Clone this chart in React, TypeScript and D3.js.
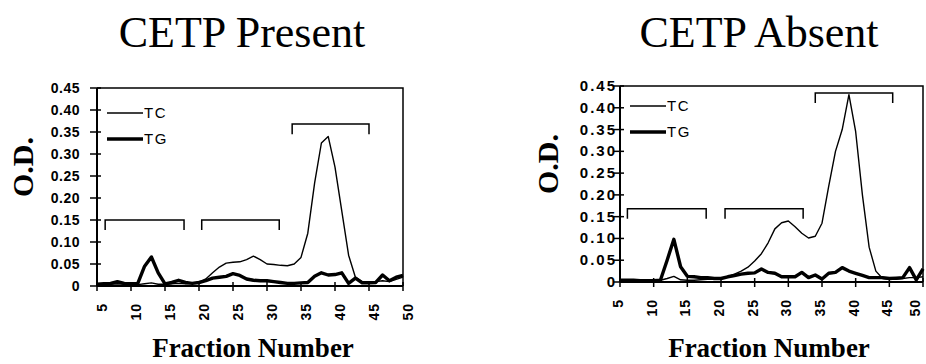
import * as d3 from "d3"

const fractions = [5, 6, 7, 8, 9, 10, 11, 12, 13, 14, 15, 16, 17, 18, 19, 20, 21, 22, 23, 24, 25, 26, 27, 28, 29, 30, 31, 32, 33, 34, 35, 36, 37, 38, 39, 40, 41, 42, 43, 44, 45, 46, 47, 48, 49, 50]

// CETP present
const presentTC = [0.003, 0.003, 0.004, 0.005, 0.004, 0.003, 0.003, 0.005, 0.007, 0.004, 0.004, 0.005, 0.006, 0.005, 0.006, 0.008, 0.016, 0.03, 0.043, 0.052, 0.054, 0.055, 0.06, 0.068, 0.06, 0.05, 0.049, 0.047, 0.046, 0.05, 0.065, 0.12, 0.234, 0.325, 0.34, 0.27, 0.17, 0.07, 0.02, 0.01, 0.01, 0.01, 0.012, 0.01, 0.015, 0.02]
const presentTG = [0.004, 0.005, 0.006, 0.01, 0.006, 0.005, 0.006, 0.045, 0.066, 0.03, 0.005, 0.008, 0.013, 0.008, 0.006, 0.008, 0.012, 0.018, 0.02, 0.022, 0.028, 0.024, 0.016, 0.013, 0.012, 0.012, 0.01, 0.008, 0.006, 0.006, 0.007, 0.008, 0.022, 0.03, 0.025, 0.026, 0.03, 0.006, 0.018, 0.007, 0.007, 0.008, 0.025, 0.012, 0.02, 0.024]

// CETP absent
const absentTC = [0.005, 0.005, 0.004, 0.003, 0.002, 0.003, 0.004, 0.008, 0.013, 0.005, 0.004, 0.004, 0.005, 0.006, 0.006, 0.008, 0.012, 0.018, 0.025, 0.034, 0.048, 0.065, 0.09, 0.122, 0.136, 0.14, 0.127, 0.112, 0.101, 0.105, 0.135, 0.22, 0.3, 0.35, 0.43, 0.345, 0.2, 0.08, 0.025, 0.008, 0.006, 0.006, 0.008, 0.01, 0.01, 0.012]
const absentTG = [0.004, 0.004, 0.004, 0.003, 0.003, 0.003, 0.004, 0.05, 0.098, 0.035, 0.013, 0.012, 0.01, 0.01, 0.008, 0.008, 0.012, 0.015, 0.018, 0.02, 0.021, 0.03, 0.022, 0.02, 0.012, 0.012, 0.012, 0.022, 0.01, 0.016, 0.007, 0.02, 0.022, 0.033, 0.025, 0.02, 0.015, 0.01, 0.01, 0.01, 0.008, 0.009, 0.01, 0.033, 0.005, 0.03]

const xTicks = [5, 10, 15, 20, 25, 30, 35, 40, 45, 50]
const yTicks = [0, 0.05, 0.1, 0.15, 0.2, 0.25, 0.3, 0.35, 0.4, 0.45]

// [from fraction, to fraction, O.D. level]
const presentBrackets = [[6.2, 17.8, 0.15], [20.4, 31.8, 0.15], [33.7, 45, 0.368]]
const absentBrackets = [[6.1, 17.8, 0.168], [20.6, 32.2, 0.168], [34, 45.5, 0.434]]

const serif = "'Liberation Serif', 'Times New Roman', serif"
const sans = "'Liberation Sans', Arial, sans-serif"

interface PanelProps {
  title: string; tc: number[]; tg: number[]; brackets: number[][]
  x0: number; x1: number; y0: number; y1: number
  titleX: number; odX: number; fracX: number; fracY: number
  yLabEnd: number; yLabSize: number; yLabSpace: number; xLabShift: number; xLabMax: number
  legX: number; legY: number
}

function Panel(p: PanelProps) {
  const x = d3.scaleLinear().domain([5, 50]).range([p.x0, p.x1])
  const y = d3.scaleLinear().domain([0, 0.45]).range([p.y0, p.y1])
  const line = d3.line<number>().x((_, i) => x(fractions[i])).y(d => y(d))
  const leg = 0.023
  return (
    <g>
      <text x={p.titleX} y={47} textAnchor="middle" fontFamily={serif} fontSize={44}>{p.title}</text>
      <text transform={`translate(${p.odX},${(p.y0 + p.y1) / 2 - 20}) rotate(-90)`} textAnchor="middle"
        fontFamily={serif} fontWeight="bold" fontSize={30}>O.D.</text>
      <text x={p.fracX} y={p.fracY} textAnchor="middle" fontFamily={serif} fontWeight="bold" fontSize={27}>Fraction Number</text>

      {/* frame */}
      <path d={`M${p.x0},${p.y1}H${p.x1}V${p.y0}`} fill="none" stroke="#000" strokeWidth={1.5} />
      <line x1={p.x0} x2={p.x0} y1={p.y1} y2={p.y0} stroke="#000" strokeWidth={2} />
      <line x1={p.x0} x2={p.x1} y1={p.y0} y2={p.y0} stroke="#000" strokeWidth={2} />

      {yTicks.map(t => (
        <g key={t}>
          <line x1={p.x0 - 7} x2={p.x0 + 4} y1={y(t)} y2={y(t)} stroke="#000" strokeWidth={1.5} />
          <text x={p.yLabEnd} y={y(t) + 5} textAnchor="end" fontFamily={sans} fontWeight="bold"
            fontSize={p.yLabSize} letterSpacing={p.yLabSpace}>{t === 0 ? "0" : t.toFixed(2)}</text>
        </g>
      ))}
      {xTicks.map(t => (
        <g key={t}>
          <line x1={x(t)} x2={x(t)} y1={p.y0 - 4} y2={p.y0 + 5} stroke="#000" strokeWidth={1.5} />
          <text transform={`translate(${Math.min(x(t) + p.xLabShift, p.xLabMax)},${p.y0 + 17}) rotate(-90)`}
            textAnchor="end" dy="0.35em" fontFamily={sans} fontWeight="bold" fontSize={14} letterSpacing={1}>{t}</text>
        </g>
      ))}

      {p.brackets.map((b, i) => (
        <path key={i} d={`M${x(b[0])},${y(b[2] - leg)}V${y(b[2])}H${x(b[1])}V${y(b[2] - leg)}`}
          fill="none" stroke="#000" strokeWidth={1.5} />
      ))}

      <path d={line(p.tc) ?? ""} fill="none" stroke="#000" strokeWidth={1.4} strokeLinejoin="round" />
      <path d={line(p.tg) ?? ""} fill="none" stroke="#000" strokeWidth={3.4} strokeLinejoin="round" />

      {/* legend */}
      <line x1={p.legX} x2={p.legX + 36} y1={p.legY} y2={p.legY} stroke="#000" strokeWidth={1.4} />
      <text x={p.legX + 37} y={p.legY + 5} fontFamily={sans} fontSize={15} letterSpacing={1.5}>TC</text>
      <line x1={p.legX} x2={p.legX + 36} y1={p.legY + 26} y2={p.legY + 26} stroke="#000" strokeWidth={3.4} />
      <text x={p.legX + 37} y={p.legY + 31} fontFamily={sans} fontSize={15} letterSpacing={1.5}>TG</text>
    </g>
  )
}

export default function App() {
  return (
    <svg width={926} height={364} style={{ position: "absolute", left: 0, top: 0, background: "#fff" }}>
      <Panel title="CETP Present" tc={presentTC} tg={presentTG} brackets={presentBrackets}
        x0={97} x1={403} y0={286} y1={88} titleX={242} odX={33} fracX={253} fracY={357}
        yLabEnd={80} yLabSize={14} yLabSpace={0.5} xLabShift={5} xLabMax={920} legX={107} legY={113} />
      <Panel title="CETP Absent" tc={absentTC} tg={absentTG} brackets={absentBrackets}
        x0={620} x1={923} y0={282} y1={86} titleX={759} odX={558} fracX={769} fracY={357}
        yLabEnd={617} yLabSize={15} yLabSpace={2} xLabShift={-2} xLabMax={915} legX={630} legY={106} />
    </svg>
  )
}
